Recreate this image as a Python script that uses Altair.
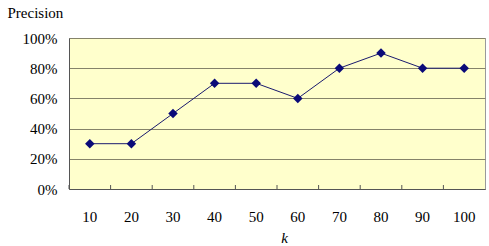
import altair as alt
import pandas as pd

k_values = ["10", "20", "30", "40", "50", "60", "70", "80", "90", "100"]
precision = [0.30, 0.30, 0.50, 0.70, 0.70, 0.60, 0.80, 0.90, 0.80, 0.80]
y_ticks = [0, 0.2, 0.4, 0.6, 0.8, 1.0]

df = pd.DataFrame({"k": k_values, "precision": precision})

FONT = "Liberation Serif"
W, H = 416, 151

xscale = alt.Scale(type="band", domain=k_values, paddingInner=0, paddingOuter=0)
yscale = alt.Scale(domain=[0, 1], nice=False)

xaxis = alt.Axis(title="k", titleFont=FONT, titleFontStyle="italic",
                 titleFontWeight="normal", titleFontSize=15, titleColor="#000",
                 titlePadding=6, titleX=215,
                 labelFont=FONT, labelFontSize=15, labelColor="#000",
                 labelAngle=0, labelPadding=20, ticks=False,
                 labelOverlap=False, labelFlush=False,
                 domainColor="#555", domainWidth=1)
yaxis = alt.Axis(values=y_ticks, tickCount=6, format=".0%",
                 title="Precision", titleAngle=0, titleAlign="left",
                 titleBaseline="alphabetic",
                 titleX=-62, titleY=-21, titleFont=FONT, titleFontSize=15,
                 titleFontWeight="normal", titleColor="#000",
                 labelFont=FONT, labelFontSize=15, labelColor="#000",
                 labelPadding=12, ticks=False,
                 labelOverlap=False, labelFlush=False, labelBound=False,
                 grid=True, gridColor="#85836a", gridWidth=1,
                 domainColor="#555", domainWidth=1)

X = alt.X("k:O", scale=xscale, bandPosition=0.5, sort=k_values, axis=xaxis)
Y = alt.Y("precision:Q", scale=yscale, axis=yaxis)

base = alt.Chart(df)

line = base.mark_line(color="#1a1a6e", strokeWidth=1).encode(x=X, y=Y)

points = base.mark_point(shape="diamond", filled=True, size=90,
                         color="#0a0a78", opacity=1).encode(x=X, y=Y)

ticks = base.mark_rule(color="#555", strokeWidth=1).encode(
    x=alt.X("k:O", scale=xscale, bandPosition=0, sort=k_values, axis=xaxis),
    y=alt.value(H - 4),
    y2=alt.value(H),
)

chart = alt.layer(line, ticks, points).properties(
    width=W, height=H,
    background="white",
    autosize=alt.AutoSizeParams(type="none"),
    padding={"left": 69, "top": 38, "right": 4, "bottom": 57},
).configure_view(
    fill="#FFFFCC", stroke="#9a9a9a", strokeWidth=1
)

chart.save("out.html", embed_options={"renderer": "svg", "actions": False})
